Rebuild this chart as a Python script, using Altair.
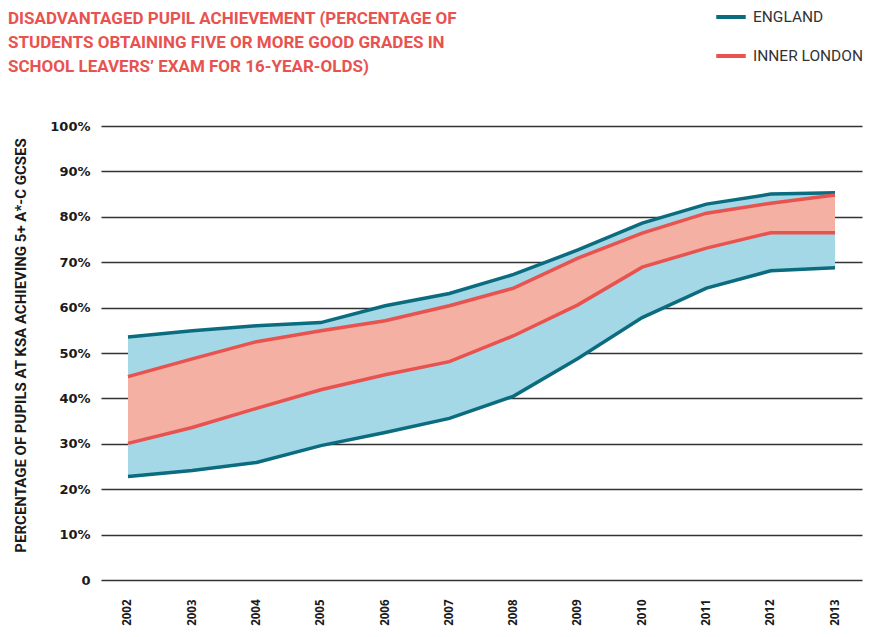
import altair as alt
import pandas as pd

years = ["2002", "2003", "2004", "2005", "2006", "2007", "2008", "2009", "2010", "2011", "2012", "2013"]
eng_low = [22.8, 24.1, 25.9, 29.6, 32.5, 35.6, 40.5, 48.8, 57.8, 64.3, 68.1, 68.8]
eng_high = [53.5, 54.9, 56.0, 56.7, 60.4, 63.1, 67.3, 72.7, 78.6, 82.8, 85.0, 85.3]
il_low = [30.1, 33.6, 37.8, 41.9, 45.2, 48.1, 53.8, 60.6, 68.9, 73.1, 76.5, 76.5]
il_high = [44.8, 48.7, 52.5, 54.9, 57.1, 60.4, 64.3, 70.9, 76.4, 80.8, 83.0, 84.8]
y_ticks = [0, 10, 20, 30, 40, 50, 60, 70, 80, 90, 100]
series_names = ["ENGLAND", "INNER LONDON"]

TEAL = "#0c6c7f"
RED = "#e8524f"
BLUE_FILL = "#a4d8e6"
SALMON_FILL = "#f4b0a2"

wide = pd.DataFrame({"year": years, "eng_low": eng_low, "eng_high": eng_high,
                     "il_low": il_low, "il_high": il_high})
rows = []
for i, yr in enumerate(years):
    rows.append({"year": yr, "series": "ENGLAND", "bound": "low", "value": eng_low[i]})
    rows.append({"year": yr, "series": "ENGLAND", "bound": "high", "value": eng_high[i]})
    rows.append({"year": yr, "series": "INNER LONDON", "bound": "low", "value": il_low[i]})
    rows.append({"year": yr, "series": "INNER LONDON", "bound": "high", "value": il_high[i]})
long = pd.DataFrame(rows)

x_axis = alt.Axis(labelAngle=270, labelAlign="right", labelBaseline="middle", labelPadding=19,
                  ticks=False, domain=False, grid=False, title=None,
                  labelFont="Open Sans", labelFontSize=11.5, labelFontWeight="bold", labelColor="#1a1a1a")
x_scale = alt.Scale(type="point", padding=0.42)

y_axis = alt.Axis(values=y_ticks, labelExpr="datum.value == 0 ? '0' : datum.value + '%'",
                  grid=True, gridColor="#333333", gridWidth=1.5, domain=False, ticks=False,
                  labelPadding=11, labelFont="DejaVu Sans", labelFontSize=13, labelFontWeight="bold",
                  labelColor="#1a1a1a", labelBaseline="middle",
                  title="PERCENTAGE OF PUPILS AT KSA ACHIEVING 5+ A*-C GCSES",
                  titleFont="Roboto", titleFontSize=15, titleFontWeight="bold", titleColor="#1a1a1a",
                  titleX=-81, titleY=219, titleAngle=270, titleBaseline="middle", titleAlign="center")
y_scale = alt.Scale(domain=[0, 100])

eng_area = alt.Chart(wide).mark_area(color=BLUE_FILL, opacity=1).encode(
    x=alt.X("year:O", scale=x_scale, axis=x_axis),
    y=alt.Y("eng_low:Q", scale=y_scale, axis=y_axis),
    y2="eng_high:Q",
)
il_area = alt.Chart(wide).mark_area(color=SALMON_FILL, opacity=1).encode(
    x=alt.X("year:O", scale=x_scale, axis=x_axis),
    y=alt.Y("il_low:Q", scale=y_scale, axis=y_axis),
    y2="il_high:Q",
)
lines = alt.Chart(long).mark_line(strokeWidth=3.5).encode(
    x=alt.X("year:O", scale=x_scale, axis=x_axis),
    y=alt.Y("value:Q", scale=y_scale, axis=y_axis),
    color=alt.Color("series:N", scale=alt.Scale(domain=series_names, range=[TEAL, RED]),
                    legend=alt.Legend(orient="none", legendX=613, legendY=-126, title=None,
                                      symbolType="stroke", symbolSize=870, symbolStrokeWidth=4,
                                      labelFont="Roboto", labelFontSize=15.5, labelColor="#333333",
                                      rowPadding=13, padding=0, labelOffset=5, direction="vertical")),
    detail="bound:N",
)

chart = alt.layer(eng_area, il_area, lines).properties(
    width=761, height=454,
    autosize=alt.AutoSizeParams(type="none"),
    padding={"left": 93, "top": 118, "right": 1, "bottom": 48},
    title=alt.TitleParams(
        text=["DISADVANTAGED PUPIL ACHIEVEMENT (PERCENTAGE OF",
              "STUDENTS OBTAINING FIVE OR MORE GOOD GRADES IN",
              "SCHOOL LEAVERS\u2019 EXAM FOR 16-YEAR-OLDS)"],
        anchor="start", frame="group", dx=-93, offset=0, dy=76,
        font="Roboto", fontSize=17, fontWeight="bold", color=RED, lineHeight=24,
    ),
).configure_view(stroke=None)

chart.save("out.html", embed_options={"renderer": "svg", "actions": False})
